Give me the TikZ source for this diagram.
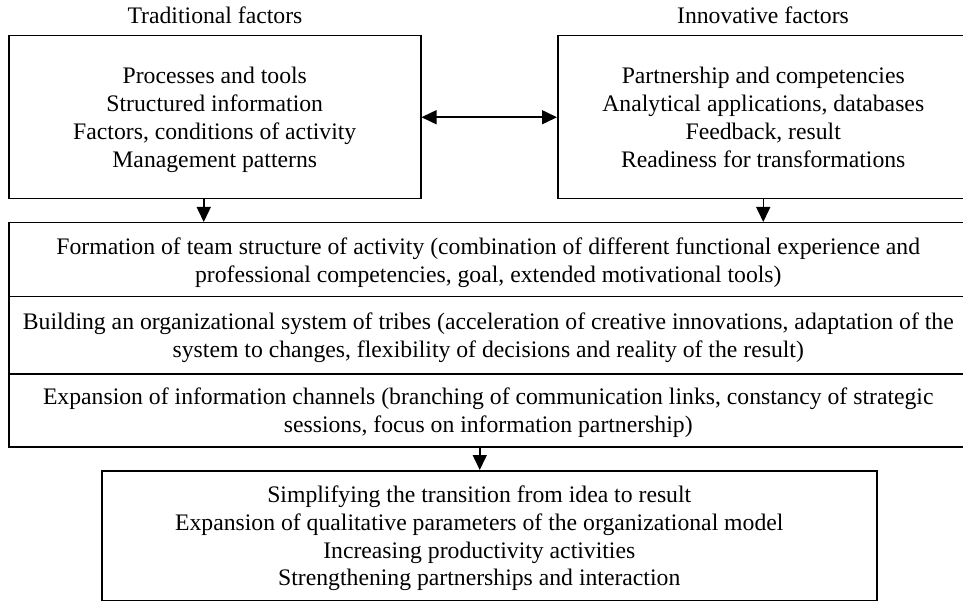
\documentclass[tikz,border=0pt]{standalone}
\usepackage{fontspec}
\setmainfont{Liberation Serif}
\usetikzlibrary{arrows.meta}
\newcommand\mystrut{\rule[-5.5pt]{0pt}{27.8pt}}
\begin{document}
\begin{tikzpicture}[x=1pt,y=-1pt,line width=1.5pt,
  txt/.style={font=\fontsize{23.7}{27.8}\selectfont},
  box/.style={draw,rectangle,align=center,inner sep=0pt,anchor=north west,txt},
  frame/.style={draw,rectangle,inner sep=0pt,anchor=north west},
  lbl/.style={txt,inner sep=0pt,anchor=base},
  arr/.style={-{Triangle[length=15pt,width=14pt]},line width=1.5pt},
  dbl/.style={{Triangle[length=15pt,width=14pt]}-{Triangle[length=15pt,width=14pt]},line width=1.5pt}]
\useasboundingbox (0,0) rectangle (963,601);
\clip (0,0) rectangle (963,601);
\node[lbl] (lt1) at (215,24) {Traditional factors};
\node[lbl] (lt2) at (763,24) {Innovative factors};
\node[box,minimum width=412pt,minimum height=163pt] (trad) at (8,35)
  {\mystrut Processes and tools\\\mystrut Structured information\\\mystrut Factors, conditions of activity\\\mystrut Management patterns};
\node[box,minimum width=411pt,minimum height=163pt] (inn) at (557,35)
  {\mystrut Partnership and competencies\\\mystrut Analytical applications, databases\\\mystrut Feedback, result\\\mystrut Readiness for transformations};
\node[box,minimum width=959pt,minimum height=74pt] (m1) at (8,222)
  {\mystrut Formation of team structure of activity (combination of different functional experience and\\\mystrut professional competencies, goal, extended motivational tools)};
\node[box,minimum width=959pt,minimum height=77pt] (m2) at (8,296)
  {\mystrut Building an organizational system of tribes (acceleration of creative innovations, adaptation of the\\\mystrut system to changes, flexibility of decisions and reality of the result)};
\node[box,minimum width=959pt,minimum height=73pt] (m3) at (8,373)
  {\mystrut Expansion of information channels (branching of communication links, constancy of strategic\\\mystrut sessions, focus on information partnership)};
\node[frame,minimum width=775pt,minimum height=130pt] (res) at (101,470) {};
\node[txt,align=center,inner sep=0pt] (restxt) at ([xshift=-10pt]res.center)
  {\mystrut Simplifying the transition from idea to result\\\mystrut Expansion of qualitative parameters of the organizational model\\\mystrut Increasing productivity activities\\\mystrut Strengthening partnerships and interaction};
\draw[dbl] (trad.east) -- (inn.west);
\coordinate (lt) at ([xshift=-11pt]trad.south);
\draw[arr] (lt) -- (lt |- m1.north);
\draw[arr] (inn.south) -- (inn.south |- m1.north);
\coordinate (mt) at ([xshift=-8.5pt]m3.south);
\draw[arr] (mt) -- (mt |- res.north);
\end{tikzpicture}
\end{document}
